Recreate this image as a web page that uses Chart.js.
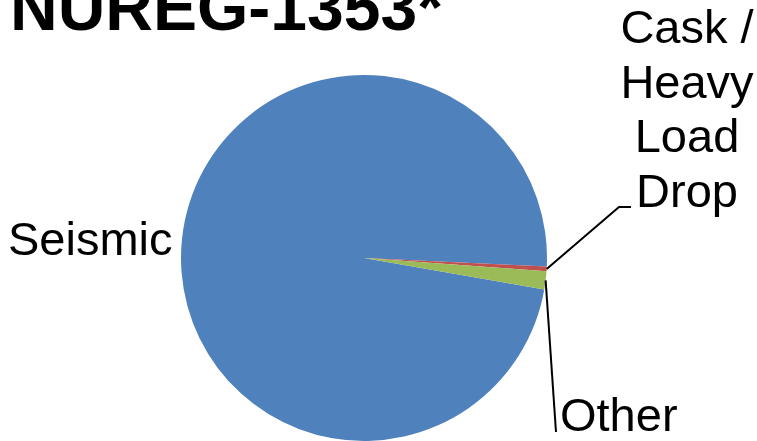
<!DOCTYPE html>
<html>
<head>
<meta charset="utf-8">
<script src="https://cdn.jsdelivr.net/npm/chart.js@4/dist/chart.umd.min.js"></script>
<style>
  html, body { margin: 0; padding: 0; background: #ffffff; }
  #wrap { width: 757px; height: 441px; }
</style>
</head>
<body>
<div id="wrap"><canvas id="c" width="757" height="441"></canvas></div>
<script>
// Share of spent fuel pool risk by initiating event (NUREG-1353)
const chartTitle = 'NUREG-1353*';
const categories = ['Seismic', 'Cask / Heavy Load Drop', 'Other'];
const shares = [98.0, 0.4, 1.6];
const sliceColors = ['#4F81BD', '#C0504D', '#9BBB59'];

const FONT = '"Liberation Sans", Arial, sans-serif';

function drawText(ctx, text, x, y, font, align) {
  ctx.save();
  ctx.font = font;
  ctx.fillStyle = '#000000';
  ctx.textBaseline = 'alphabetic';
  ctx.textAlign = align;
  ctx.fillText(text, x, y);
  ctx.restore();
}

// Point on the outer rim at the middle of slice i
function rimPoint(chart, i) {
  const arc = chart.getDatasetMeta(0).data[i];
  const p = arc.getProps(['x', 'y', 'startAngle', 'endAngle', 'outerRadius'], true);
  const mid = (p.startAngle + p.endAngle) / 2;
  return { x: p.x + Math.cos(mid) * p.outerRadius, y: p.y + Math.sin(mid) * p.outerRadius };
}

const labelPlugin = {
  id: 'pieLabels',
  afterDraw(chart) {
    const ctx = chart.ctx;
    const labelFont = '47px ' + FONT;

    // title
    drawText(ctx, chartTitle, 10, 30, 'bold 66px ' + FONT, 'left');

    // Seismic
    drawText(ctx, categories[0], 8, 255, labelFont, 'left');

    // Cask / Heavy Load Drop, wrapped over four lines
    const caskLines = ['Cask /', 'Heavy', 'Load', 'Drop'];
    caskLines.forEach((t, k) => drawText(ctx, t, 687, 43 + k * 54.5, labelFont, 'center'));

    // Other
    drawText(ctx, categories[2], 560, 431, labelFont, 'left');

    // leader lines
    ctx.save();
    ctx.strokeStyle = '#000000';
    ctx.lineWidth = 2;
    const a = rimPoint(chart, 1);
    ctx.beginPath();
    ctx.moveTo(a.x, a.y);
    ctx.lineTo(619, 207);
    ctx.lineTo(631, 207);
    ctx.stroke();
    const b = rimPoint(chart, 2);
    ctx.beginPath();
    ctx.moveTo(b.x, b.y);
    ctx.lineTo(556, 432);
    ctx.stroke();
    ctx.restore();
  }
};

new Chart(document.getElementById('c'), {
  type: 'pie',
  data: {
    labels: categories,
    datasets: [{
      data: shares,
      backgroundColor: sliceColors,
      borderWidth: 0
    }]
  },
  options: {
    responsive: false,
    animation: false,
    rotation: 99.9,
    layout: { padding: { top: 75, bottom: 0, left: 181, right: 210 } },
    plugins: {
      legend: { display: false },
      tooltip: { enabled: false },
      title: { display: false }
    }
  },
  plugins: [labelPlugin]
});
</script>
</body>
</html>
